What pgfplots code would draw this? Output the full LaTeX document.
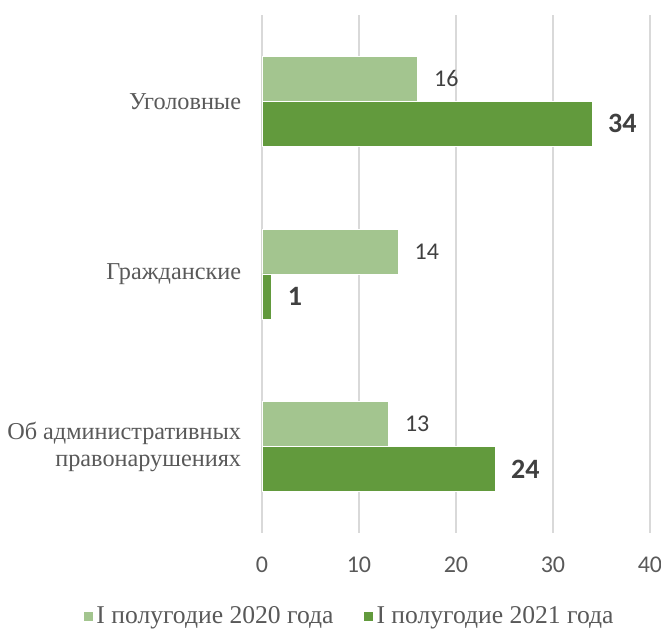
\documentclass[border=0pt]{standalone}
\usepackage{pgfplots}
\pgfplotsset{compat=1.18}
\usepackage{fontspec}
\setmainfont{Liberation Serif}
\newfontfamily\calibri{Carlito}
\definecolor{lightg}{HTML}{A3C58F}
\definecolor{darkg}{HTML}{629A3D}
\definecolor{gridc}{HTML}{D9D9D9}
\definecolor{txt}{HTML}{595959}
\definecolor{val}{HTML}{404040}
\begin{document}
\begin{tikzpicture}
\path[use as bounding box] (-196.5pt,-72.75pt) rectangle (299.25pt,399.75pt);
\begin{axis}[
  at={(0,0)}, anchor=south west, scale only axis,
  width=291pt, height=388.5pt,
  xbar, bar width=0.26,
  xmin=0, xmax=40, ymin=-0.5, ymax=2.5,
  xtick={0,10,20,30,40},
  ytick={0,1,2},
  yticklabels={{Об административных\\правонарушениях},Гражданские,Уголовные},
  yticklabel style={align=right, font=\fontsize{18.2}{20.3}\selectfont, text=txt, anchor=east, inner sep=0pt, xshift=-15.5pt},
  xticklabel style={font=\calibri\fontsize{18}{20}\selectfont, text=txt, anchor=center, yshift=-24pt},
  /pgf/number format/assume math mode=true,
  axis line style={draw=none},
  major tick length=0pt,
  xmajorgrids, grid style={gridc, line width=1.1pt},
  legend columns=2,
  legend style={at={(-0.462,-0.160)}, anchor=west, draw=none, inner xsep=0pt,
    font=\fontsize{19.2}{21}\selectfont, text=txt,
    nodes={inner xsep=2.2pt},
    /tikz/every even column/.style={column sep=20pt}},
  legend image code/.code={\fill[#1] (0pt,-3.75pt) rectangle (7.5pt,3.75pt);},
]
\addplot[fill=lightg, draw=white, line width=0.4pt, bar shift=0.13,
  nodes near coords, nodes near coords style={anchor=west, inner sep=0pt, xshift=12.5pt,
  font=\calibri\fontsize{18}{20}\selectfont, text=val}]
  coordinates {(16,2) (14,1) (13,0)};
\addlegendentry{I полугодие 2020 года}
\addplot[fill=darkg, draw=white, line width=0.4pt, bar shift=-0.13,
  nodes near coords, nodes near coords style={anchor=west, inner sep=0pt, xshift=12pt,
  font=\calibri\bfseries\fontsize{21}{23}\selectfont, text=val}]
  coordinates {(34,2) (1,1) (24,0)};
\addlegendentry{I полугодие 2021 года}
\end{axis}
\end{tikzpicture}
\end{document}
